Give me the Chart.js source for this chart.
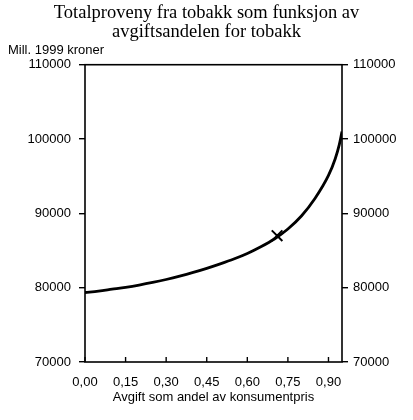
<!DOCTYPE html>
<html>
<head>
<meta charset="utf-8">
<script src="https://cdn.jsdelivr.net/npm/chart.js@4/dist/chart.umd.min.js"></script>
<style>
  html, body { margin: 0; padding: 0; background: #fff; }
  #wrap { position: relative; width: 413px; height: 420px; }
</style>
</head>
<body>
<div id="wrap"><canvas id="chart"></canvas></div>
<script>
// data
const taxShare = [0, 0.05, 0.10, 0.15, 0.20, 0.25, 0.30, 0.35, 0.40, 0.45, 0.50, 0.55,
  0.60, 0.65, 0.70, 0.75, 0.80, 0.85, 0.90, 0.925, 0.94, 0.95];
const revenue = [79350, 79550, 79800, 80050, 80350, 80700, 81100, 81550, 82050, 82600, 83200, 83850,
  84600, 85500, 86550, 87900, 89650, 92000, 95100, 97350, 99250, 101000];

const markerShare = [0.71];
const markerRevenue = [87000];

const xTickValues = [0, 0.15, 0.30, 0.45, 0.60, 0.75, 0.90];
const yTickValues = [70000, 80000, 90000, 100000, 110000];

const tickFont = { family: "'Liberation Sans', Arial, sans-serif", size: 13 };

// frame round the plot and inward x ticks
const framePlugin = {
  id: "frame",
  afterDatasetsDraw(chart) {
    const { ctx, chartArea: a, scales } = chart;
    ctx.save();
    ctx.strokeStyle = "#000";
    ctx.lineWidth = 1.6;
    ctx.strokeRect(a.left, a.top, a.right - a.left, a.bottom - a.top);
    ctx.lineWidth = 1.4;
    scales.x.ticks.forEach(t => {
      const px = scales.x.getPixelForValue(t.value);
      ctx.beginPath();
      ctx.moveTo(px, a.bottom);
      ctx.lineTo(px, a.bottom - 5);
      ctx.stroke();
    });
    ctx.restore();
  }
};

const yAxis = (position, width, padding) => ({
  type: "linear",
  position: position,
  min: 70000,
  max: 110000,
  afterBuildTicks: s => { s.ticks = yTickValues.map(v => ({ value: v })); },
  afterFit: s => { s.width = width; },
  border: { display: false },
  grid: { drawOnChartArea: false, drawTicks: true, tickLength: 6, color: "#000", lineWidth: 1.4 },
  ticks: { color: "#000", font: tickFont, padding: padding, callback: v => String(v) }
});

new Chart(document.getElementById("chart"), {
  type: "line",
  data: {
    datasets: [
      {
        data: taxShare.map((x, i) => ({ x: x, y: revenue[i] })),
        borderColor: "#000",
        borderWidth: 2.8,
        pointRadius: 0,
        cubicInterpolationMode: "monotone",
        fill: false
      },
      {
        data: markerShare.map((x, i) => ({ x: x, y: markerRevenue[i] })),
        showLine: false,
        pointStyle: "crossRot",
        pointRadius: 7.5,
        pointBorderWidth: 2,
        pointBorderColor: "#000",
        pointBackgroundColor: "#000"
      }
    ]
  },
  options: {
    responsive: true,
    maintainAspectRatio: false,
    animation: false,
    layout: { padding: { left: 8, right: 8, top: 0, bottom: 0 } },
    plugins: {
      legend: { display: false },
      tooltip: { enabled: false },
      title: {
        display: true,
        text: ["Totalproveny fra tobakk som funksjon av", "avgiftsandelen for tobakk"],
        color: "#000",
        font: { family: "'Liberation Serif', 'Times New Roman', serif", size: 18.5, weight: "normal", lineHeight: 1.03 },
        padding: { top: 4, bottom: 1 }
      },
      subtitle: {
        display: true,
        text: "Mill. 1999 kroner",
        align: "start",
        color: "#000",
        font: tickFont,
        padding: { top: 0, bottom: 6 }
      }
    },
    scales: {
      x: {
        type: "linear",
        min: 0,
        max: 0.95,
        afterBuildTicks: s => { s.ticks = xTickValues.map(v => ({ value: v })); },
        afterFit: s => { s.height = 58; },
        border: { display: false },
        grid: { display: false, drawTicks: false },
        ticks: { color: "#000", font: tickFont, padding: 13, maxRotation: 0,
          callback: v => v.toFixed(2).replace(".", ",") },
        title: {
          display: true,
          text: "Avgift som andel av konsumentpris",
          color: "#000",
          font: tickFont,
          padding: { top: 0, bottom: 15 }
        }
      },
      y: yAxis("left", 77, 8),
      y2: yAxis("right", 63, 5)
    }
  },
  plugins: [framePlugin]
});
</script>
</body>
</html>
